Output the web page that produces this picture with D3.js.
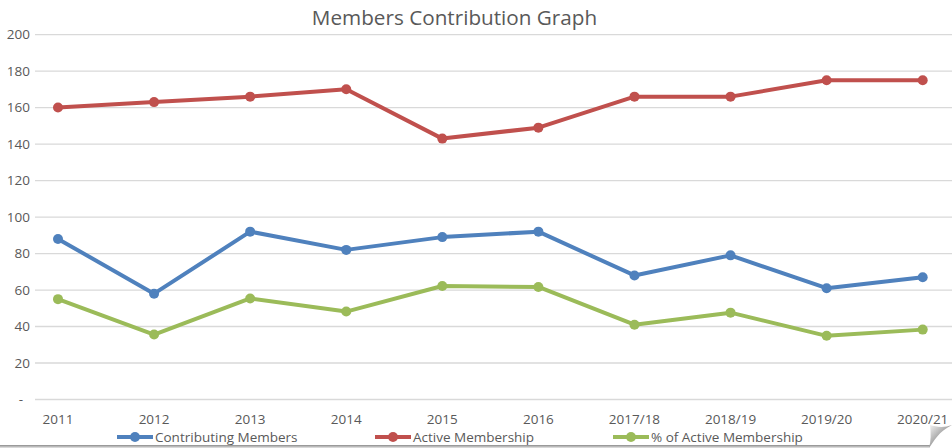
<!DOCTYPE html>
<html><head><meta charset="utf-8">
<script src="https://cdn.jsdelivr.net/npm/d3@7"></script>
<style>
html,body{margin:0;padding:0;background:#fff;}
svg{display:block;font-family:"Open Sans","Noto Sans",sans-serif;}
</style></head>
<body><svg id="c" width="952" height="448"></svg>
<script>
const categories = ["2011","2012","2013","2014","2015","2016","2017/18","2018/19","2019/20","2020/21"];
const contributing = [88,58,92,82,89,92,68,79,61,67];
const active = [160,163,166,170,143,149,166,166,175,175];
const pctActive = [55.0,35.6,55.4,48.2,62.2,61.7,41.0,47.6,34.9,38.3];
const yTicks = [0,20,40,60,80,100,120,140,160,180,200];
const seriesNames = ["Contributing Members","Active Membership","% of Active Membership"];
const colors = ["#4F81BD","#C0504D","#9BBB59"];

const svg = d3.select("#c");
const W = 952, H = 448;
const x = d3.scalePoint().domain(categories).range([58, 922.7]);
const y = d3.scaleLinear().domain([0,200]).range([399.5, 34.6]);
const gridX0 = 35, gridX1 = 952;

// defs for shadow/curl
const defs = svg.append("defs");
const gBottom = defs.append("linearGradient").attr("id","sh").attr("x1",0).attr("y1",0).attr("x2",0).attr("y2",1);
gBottom.append("stop").attr("offset","0%").attr("stop-color","#8a8a8a");
gBottom.append("stop").attr("offset","100%").attr("stop-color","#e8e8e8");
const gCurl = defs.append("linearGradient").attr("id","curl").attr("x1",0).attr("y1",0).attr("x2",1).attr("y2",1);
gCurl.append("stop").attr("offset","0%").attr("stop-color","#f4f4f4");
gCurl.append("stop").attr("offset","55%").attr("stop-color","#9a9a9a");
gCurl.append("stop").attr("offset","100%").attr("stop-color","#5a5a5a");

// gridlines
svg.append("g").selectAll("line").data(yTicks).join("line")
  .attr("x1",gridX0).attr("x2",gridX1)
  .attr("y1",d=>y(d)).attr("y2",d=>y(d))
  .attr("stroke","#d9d9d9").attr("stroke-width",1.3);

// y labels
svg.append("g").selectAll("text").data(yTicks).join("text")
  .attr("x",d=> d===0 ? 23 : 30).attr("y",d=>y(d)).attr("dy","0.35em")
  .attr("text-anchor","end").attr("fill","#595959").attr("font-size",13.5)
  .text(d=> d===0 ? "-" : d);

// x labels
svg.append("g").selectAll("text").data(categories).join("text")
  .attr("x",d=>x(d)).attr("y",424).attr("text-anchor","middle")
  .attr("fill","#595959").attr("font-size",13.5).text(d=>d);

// title
svg.append("text").attr("x",454.5).attr("y",25).attr("text-anchor","middle")
  .attr("fill","#595959").attr("font-size",20.7).text("Members Contribution Graph");

// series
const allSeries = [contributing, active, pctActive];
const line = d3.line().x((d,i)=>x(categories[i])).y(d=>y(d));
allSeries.forEach((vals,k)=>{
  const g = svg.append("g");
  g.append("path").datum(vals).attr("d",line).attr("fill","none")
    .attr("stroke",colors[k]).attr("stroke-width",4).attr("stroke-linejoin","round");
  g.selectAll("circle").data(vals).join("circle")
    .attr("cx",(d,i)=>x(categories[i])).attr("cy",d=>y(d)).attr("r",5)
    .attr("fill",colors[k]);
});

// legend
const legX = [117, 375, 613];
const legY = 437;
seriesNames.forEach((n,k)=>{
  const g = svg.append("g");
  g.append("line").attr("x1",legX[k]).attr("x2",legX[k]+36).attr("y1",legY).attr("y2",legY)
    .attr("stroke",colors[k]).attr("stroke-width",4);
  g.append("circle").attr("cx",legX[k]+18).attr("cy",legY).attr("r",5).attr("fill",colors[k]);
  g.append("text").attr("x",legX[k]+38).attr("y",legY).attr("dy","0.35em")
    .attr("fill","#595959").attr("font-size",13.5).text(n);
});

// bottom shadow border
svg.append("rect").attr("x",0).attr("y",445).attr("width",930).attr("height",3).attr("fill","url(#sh)");
// page curl
svg.append("path").attr("d","M929,448 L952,425 L952,448 Z").attr("fill","#ffffff");
svg.append("path").attr("d","M929,448 C935,440 938,432 952,425 C944,428 936,427 930,425 C931,433 931,441 929,448 Z")
  .attr("fill","url(#curl)");
</script></body></html>
